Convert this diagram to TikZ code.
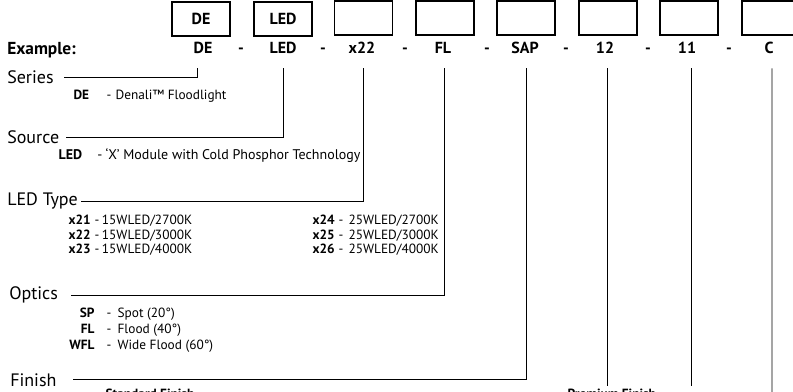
\documentclass[tikz,border=0pt]{standalone}
\usepackage{fontspec}
\setmainfont{PT Sans}
\usepackage{array}
\usetikzlibrary{positioning}

\begin{document}
\begin{tikzpicture}[x=0.75pt,y=-0.75pt,every node/.style={inner sep=0pt}]
\tikzstyle{box}=[draw,line width=1.1pt,minimum width=43.5pt,minimum height=25.5pt,font=\bfseries\fontsize{12}{14}\selectfont]
\tikzstyle{code}=[font=\bfseries\fontsize{12}{14}\selectfont,anchor=base]
\tikzstyle{head}=[font=\fontsize{13.5}{16}\selectfont,anchor=base west]
\tikzstyle{desc}=[font=\fontsize{10}{10.5}\selectfont,anchor=base west,fill=white,inner sep=1pt]
\tikzstyle{conn}=[line width=0.6pt]
\clip (0,0) rectangle (793,392);
\useasboundingbox (0,0) rectangle (793,392);
% order code boxes
\node[box] (bDE) at (201,19) {DE};
\node[box] (bLED) at (283,19) {LED};
\node[box] (bType) at (363.5,18) {};
\node[box] (bOpt) at (445,18) {};
\node[box] (bFin) at (526,18) {};
\node[box] (bA) at (608,18) {};
\node[box] (bB) at (689,18) {};
\node[box] (bC) at (771,18) {};
% example row
\node[font=\bfseries\fontsize{13}{15}\selectfont,anchor=base west] (example) at (7,55) {Example:};
\node[code] (cDE) at (203,54) {DE};
\node[code] (cLED) at (283,54) {LED};
\node[code] (cType) at (362,54) {x22};
\node[code] (cOpt) at (443,54) {FL};
\node[code] (cFin) at (525,54) {SAP};
\node[code] (cA) at (605,54) {12};
\node[code] (cB) at (687,54) {11};
\node[code] (cC) at (769,54) {C};
\node[code] (d1) at (241,54) {-};
\node[code] (d2) at (323,54) {-};
\node[code] (d3) at (405,54) {-};
\node[code] (d4) at (487,54) {-};
\node[code] (d5) at (566,54) {-};
\node[code] (d6) at (648,54) {-};
\node[code] (d7) at (729,54) {-};
% headings
\node[head] (series) at (7,84) {Series};
\node[head] (source) at (7,144) {Source};
\node[head] (ledtype) at (7,206) {LED Type};
\node[head] (optics) at (9,300) {Optics};
\node[head] (finish) at (10,386) {Finish};
\coordinate (endA) at (607,386);
\coordinate (endB) at (691,386);
\coordinate (endC) at (772,395);
% connectors
\draw[conn] ([xshift=-4.5pt,yshift=-10.5pt]cDE.south) |- ([xshift=7.5pt]series.east);
\draw[conn] ([yshift=-10.5pt]cLED.south) |- ([xshift=5pt]source.east);
\draw[conn] ([xshift=1pt,yshift=-10.5pt]cType.south) |- ([xshift=2.5pt]ledtype.east);
\draw[conn] ([xshift=1pt,yshift=-10.5pt]cOpt.south) |- ([xshift=9.5pt]optics.east);
\draw[conn] ([xshift=1pt,yshift=-10.5pt]cFin.south) |- ([xshift=12pt]finish.east);
\draw[conn] ([xshift=1.5pt,yshift=-10.5pt]cA.south) -- (endA);
\draw[conn] ([xshift=3pt,yshift=-10.5pt]cB.south) -- (endB);
\draw[conn] ([xshift=2.3pt,yshift=-10.5pt]cC.south) -- (endC);
% option texts
\node[desc] (optDE) at (72,100) {\begin{tabular}[t]{@{}>{\bfseries}p{24.75pt}@{}p{6.75pt}@{}l@{}}DE & - & Denali™ Floodlight\end{tabular}};
\node[desc,font=\fontsize{10.5}{12}\selectfont] (optLED) at (57,160) {\begin{tabular}[t]{@{}>{\bfseries}p{29pt}@{}p{6.25pt}@{}l@{}}LED & - & ‘X’ Module with Cold Phosphor Technology\end{tabular}};
\node[desc] (optType1) at (67,225) {\begin{tabular}[t]{@{}>{\bfseries}p{19.5pt}@{}p{5.5pt}@{}l@{}}x21 & - & 15WLED/2700K\\ x22 & - & 15WLED/3000K\\ x23 & - & 15WLED/4000K\end{tabular}};
\node[desc] (optType2) at (311,225) {\begin{tabular}[t]{@{}>{\bfseries}p{19.5pt}@{}p{7.5pt}@{}l@{}}x24 & - & 25WLED/2700K\\ x25 & - & 25WLED/3000K\\ x26 & - & 25WLED/4000K\end{tabular}};
\node[desc,font=\fontsize{10}{12}\selectfont] (optOpt) at (59,317) {\begin{tabular}[t]{@{}>{\bfseries\raggedleft\arraybackslash}p{25.5pt}@{\hspace{9pt}}p{8.25pt}@{}l@{}}SP & - & Spot (20°)\\ FL & - & Flood (40°)\\ WFL & - & Wide Flood (60°)\end{tabular}};
\node[desc,font=\bfseries\fontsize{10}{12}\selectfont] (stdfin) at (104,398) {Standard Finish};
\node[desc,font=\bfseries\fontsize{10}{12}\selectfont] (premfin) at (566,398) {Premium Finish};
\end{tikzpicture}
\end{document}
